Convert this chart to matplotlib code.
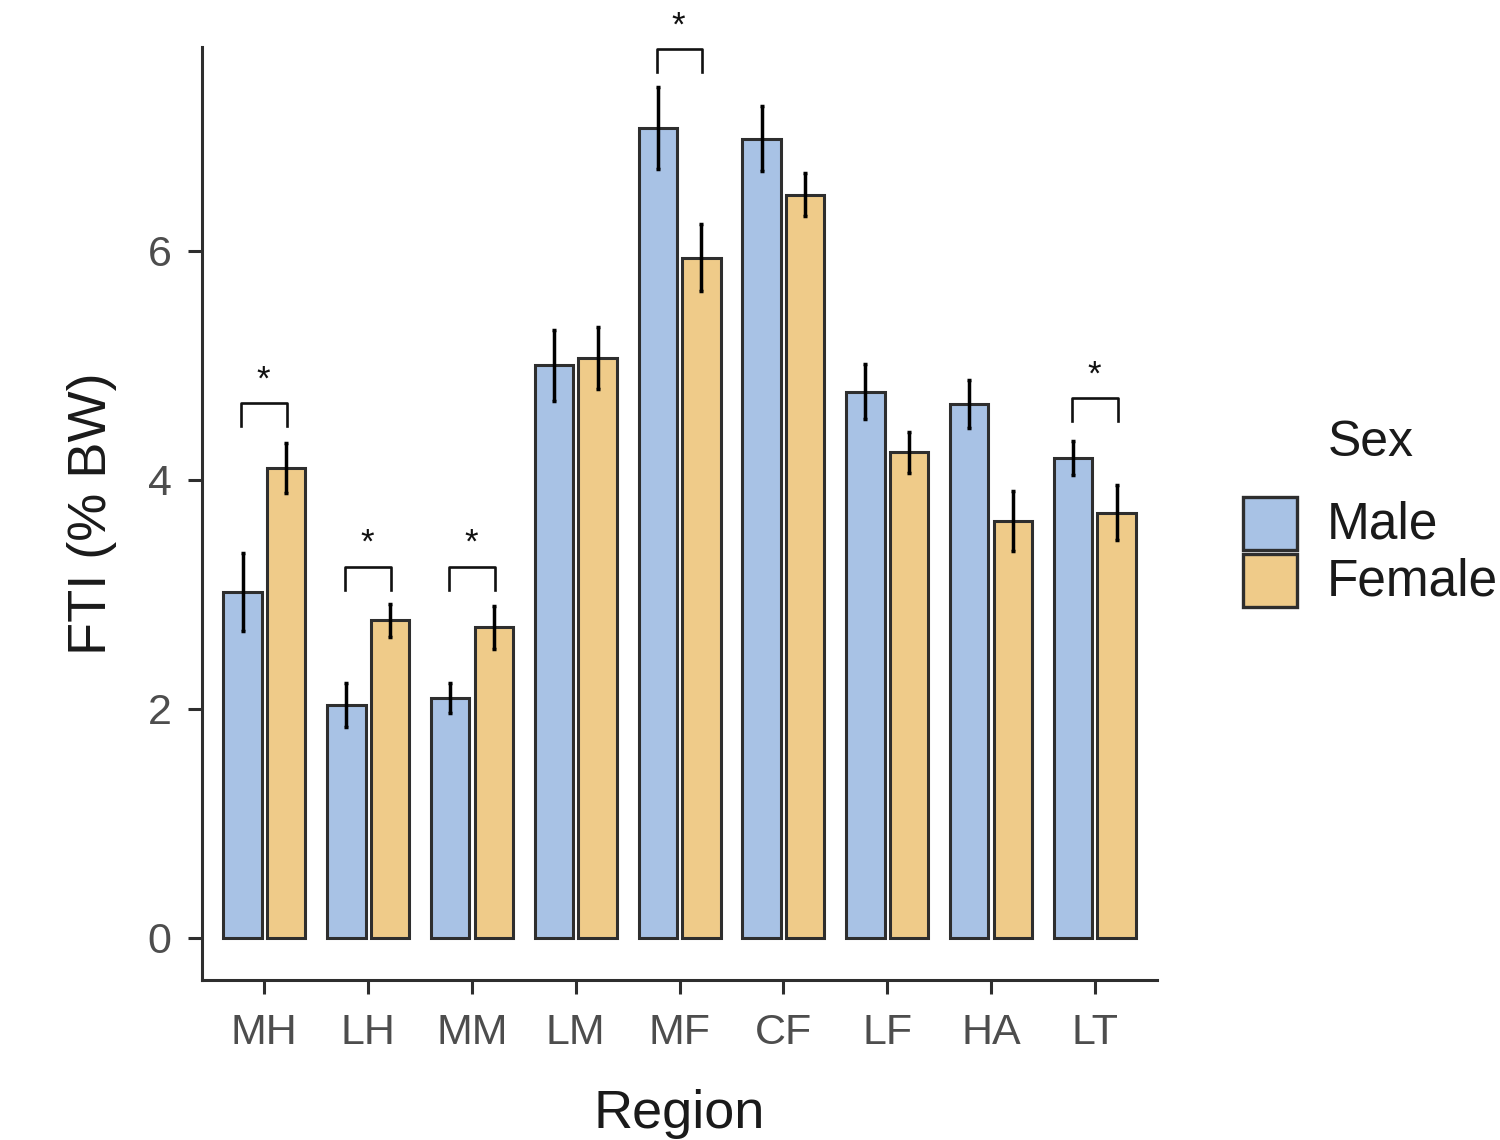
import matplotlib
matplotlib.use("Agg")
import matplotlib.pyplot as plt
from matplotlib.patches import Rectangle
import numpy as np

# ── data ──────────────────────────────────────────────────────────────────────
regions = ["MH", "LH", "MM", "LM", "MF", "CF", "LF", "HA", "LT"]
male_mean = [3.02, 2.03, 2.09, 5.00, 7.07, 6.98, 4.77, 4.66, 4.19]
male_err = [0.34, 0.19, 0.13, 0.31, 0.36, 0.28, 0.24, 0.21, 0.15]
female_mean = [4.10, 2.77, 2.71, 5.06, 5.94, 6.49, 4.24, 3.64, 3.71]
female_err = [0.22, 0.14, 0.19, 0.27, 0.29, 0.19, 0.18, 0.26, 0.24]

# significance brackets: region, bracket top height
sig_regions = ["MH", "LH", "MM", "MF", "LT"]
sig_heights = [4.67, 3.24, 3.24, 7.76, 4.71]

MALE_C = "#A8C2E5"
FEMALE_C = "#EFCB89"
EDGE = "#2E2E2E"
FONT = "Liberation Sans"

plt.rcParams["font.family"] = [FONT, "DejaVu Sans"]

fig = plt.figure(figsize=(15, 11.4), dpi=100)
ax = fig.add_axes([0.1347, 0.1404, 0.6367, 0.8184])

x = np.arange(1, len(regions) + 1)
off, w = 0.21, 0.37

ax.bar(x - off, male_mean, width=w, color=MALE_C, edgecolor=EDGE,
       linewidth=2.2, zorder=2)
ax.bar(x + off, female_mean, width=w, color=FEMALE_C, edgecolor=EDGE,
       linewidth=2.2, zorder=2)
ax.errorbar(x - off, male_mean, yerr=male_err, fmt="none", ecolor="black",
            elinewidth=2.5, capsize=1.6, capthick=2.5, zorder=3)
ax.errorbar(x + off, female_mean, yerr=female_err, fmt="none", ecolor="black",
            elinewidth=2.5, capsize=1.6, capthick=2.5, zorder=3)

# ── significance brackets ─────────────────────────────────────────────────────
for reg, h in zip(sig_regions, sig_heights):
    xc = regions.index(reg) + 1
    xl, xr = xc - 0.22, xc + 0.22
    ax.plot([xl, xl, xr, xr], [h - 0.2, h, h, h - 0.2], color="#111111",
            linewidth=1.9, zorder=3, clip_on=False)
    ax.text(xc - 0.01, h + 0.06, "*", ha="center", va="bottom",
            fontsize=25, color="#111111")

# ── axes styling (classic look) ───────────────────────────────────────────────
ax.set_xlim(0.4, 9.6)
ax.set_ylim(-0.37, 7.78)
ax.set_xticks(x)
ax.set_xticklabels(regions)
ax.set_yticks([0, 2, 4, 6])
for s in ["top", "right"]:
    ax.spines[s].set_visible(False)
for s in ["left", "bottom"]:
    ax.spines[s].set_color(EDGE)
    ax.spines[s].set_linewidth(2.2)
ax.tick_params(axis="both", length=10, width=2.2, color=EDGE,
               labelsize=31, labelcolor="#4D4D4D")
ax.tick_params(axis="y", pad=12)
ax.tick_params(axis="x", pad=14)

ax.set_xlabel("Region", fontsize=39, color="#1A1A1A", labelpad=26)
ax.set_ylabel("FTI (% BW)", fontsize=39, color="#1A1A1A", labelpad=22)

# ── legend (drawn by hand, ggplot-style) ──────────────────────────────────────
W, H = 1500, 1140
fig.text(1328 / W, 1 - 443 / H, "Sex", fontsize=36, color="#1A1A1A",
         va="center", ha="left")
for i, (lab, col) in enumerate([("Male", MALE_C), ("Female", FEMALE_C)]):
    top = 497 + i * 57
    fig.add_artist(Rectangle((1243 / W, 1 - (top + 53) / H), 54 / W, 53 / H,
                             transform=fig.transFigure, facecolor=col,
                             edgecolor=EDGE, linewidth=2.4))
    fig.text(1327 / W, 1 - (top + 28) / H, lab, fontsize=37,
             color="#1A1A1A", va="center", ha="left")

fig.savefig("out.png", dpi=100)
